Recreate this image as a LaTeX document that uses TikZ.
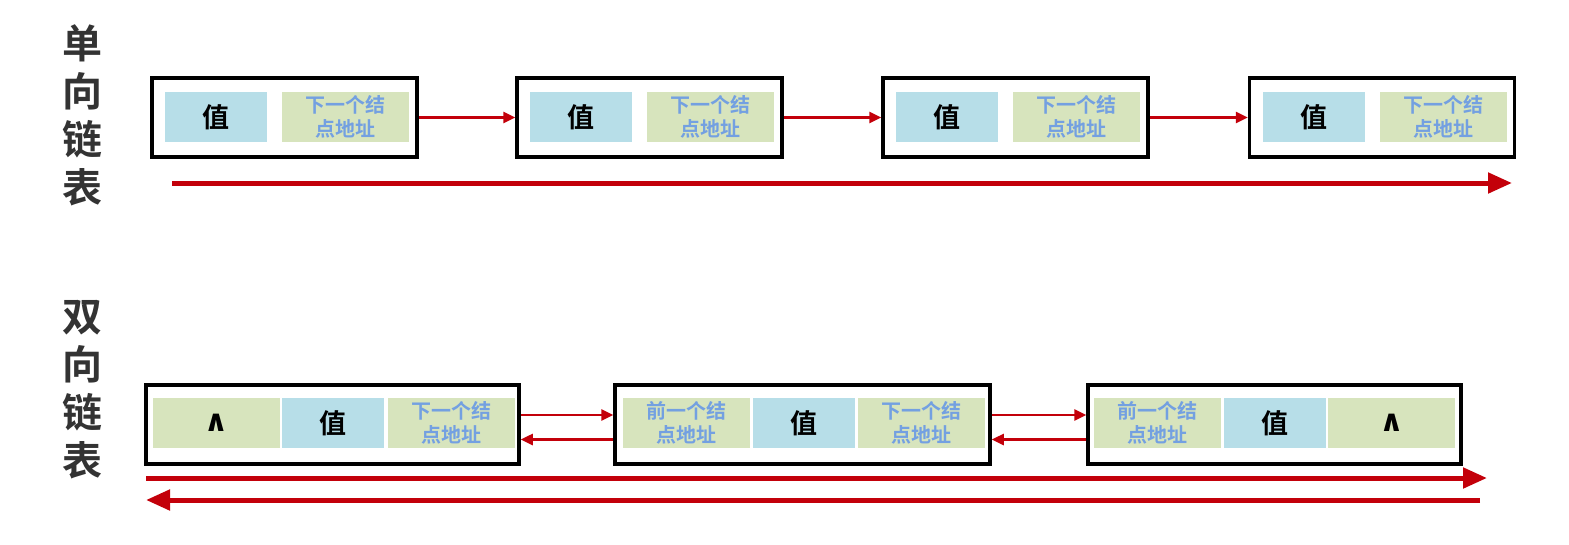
\documentclass[tikz,border=0pt]{standalone}
\usepackage{fontspec}
\newfontfamily\cjk{Noto Sans CJK SC}[BoldFont={Noto Sans CJK SC Bold}]
\newfontfamily\symb{DejaVu Sans}
\definecolor{valblue}{RGB}{183, 222, 232}
\definecolor{ptrgreen}{RGB}{215, 228, 189}
\definecolor{ptrtext}{RGB}{115, 160, 225}
\definecolor{linkred}{RGB}{195, 0, 10}
\usetikzlibrary{arrows.meta, positioning}

\begin{document}
\begin{tikzpicture}[x=1pt, y=-1pt,
    valcell/.style={fill=valblue, minimum width=102pt, minimum height=50pt, inner sep=0pt,
                    font=\cjk\bfseries\fontsize{27}{30}\selectfont},
    ptrcell/.style={fill=ptrgreen, minimum width=127pt, minimum height=50pt, inner sep=0pt,
                    align=center, text=ptrtext, font=\cjk\bfseries\fontsize{20}{24}\selectfont},
    nilcell/.style={ptrcell, text=black, font=\symb\bfseries\fontsize{30}{30}\selectfont},
    listbox/.style={draw, line width=3.5pt, minimum height=79pt, inner sep=0pt},
    title/.style={align=center, text=black!80, font=\cjk\bfseries\fontsize{40}{48}\selectfont},
    link/.style={linkred, line width=2.5pt, -{Triangle[length=12pt, width=11pt]}},
    dirline/.style={linkred, line width=5pt, -{Triangle[length=24pt, width=20pt]}}]
\useasboundingbox (0,0) rectangle (1569,544);

% titles
\node[title] (t1) at (82,115) {单\\向\\链\\表};
\node[title] (t2) at (82,390) {双\\向\\链\\表};

% singly linked list
\node[valcell] (s1v) at (216,117) {值};
\node[ptrcell] (s1n) at (345,117) {下一个结\\点地址};
\node[listbox, minimum width=265pt] (s1) at (284.5,117.5) {};
\node[valcell] (s2v) at (581,117) {值};
\node[ptrcell] (s2n) at (710,117) {下一个结\\点地址};
\node[listbox, minimum width=265pt] (s2) at (649.5,117.5) {};
\node[valcell] (s3v) at (947,117) {值};
\node[ptrcell] (s3n) at (1076,117) {下一个结\\点地址};
\node[listbox, minimum width=265pt] (s3) at (1015.5,117.5) {};
\node[valcell] (s4v) at (1314,117) {值};
\node[ptrcell] (s4n) at (1443,117) {下一个结\\点地址};
\node[listbox, minimum width=265pt] (s4) at (1382,117.5) {};

\draw[link] (s1.east) -- (s2.west);
\draw[link] (s2.east) -- (s3.west);
\draw[link] (s3.east) -- (s4.west);

\coordinate (sa) at (172,183);
\coordinate (sb) at (1512,183);
\draw[dirline] (sa) -- (sb);

% doubly linked list
\node[nilcell] (d1p) at (216,423) {∧};
\node[valcell] (d1v) at (333,423) {值};
\node[ptrcell] (d1n) at (451,423) {下一个结\\点地址};
\node[listbox, minimum width=373pt] (d1) at (332.5,424.5) {};
\node[ptrcell] (d2p) at (686.5,423) {前一个结\\点地址};
\node[valcell] (d2v) at (803.5,423) {值};
\node[ptrcell] (d2n) at (921.5,423) {下一个结\\点地址};
\node[listbox, minimum width=375pt] (d2) at (802.5,424.5) {};
\node[ptrcell] (d3p) at (1157,423) {前一个结\\点地址};
\node[valcell] (d3v) at (1274.5,423) {值};
\node[nilcell] (d3n) at (1391.5,423) {∧};
\node[listbox, minimum width=373pt] (d3) at (1274.5,424.5) {};

\draw[link] ([yshift=9.5pt]d1.east) -- ([yshift=9.5pt]d2.west);
\draw[link] ([yshift=-15pt]d2.west) -- ([yshift=-15pt]d1.east);
\draw[link] ([yshift=9.5pt]d2.east) -- ([yshift=9.5pt]d3.west);
\draw[link] ([yshift=-15pt]d3.west) -- ([yshift=-15pt]d2.east);

\coordinate (da) at (146,478);
\coordinate (db) at (1487,478);
\coordinate (dc) at (1480,500);
\coordinate (dd) at (146,500);
\draw[dirline] (da) -- (db);
\draw[dirline] (dc) -- (dd);
\end{tikzpicture}
\end{document}
